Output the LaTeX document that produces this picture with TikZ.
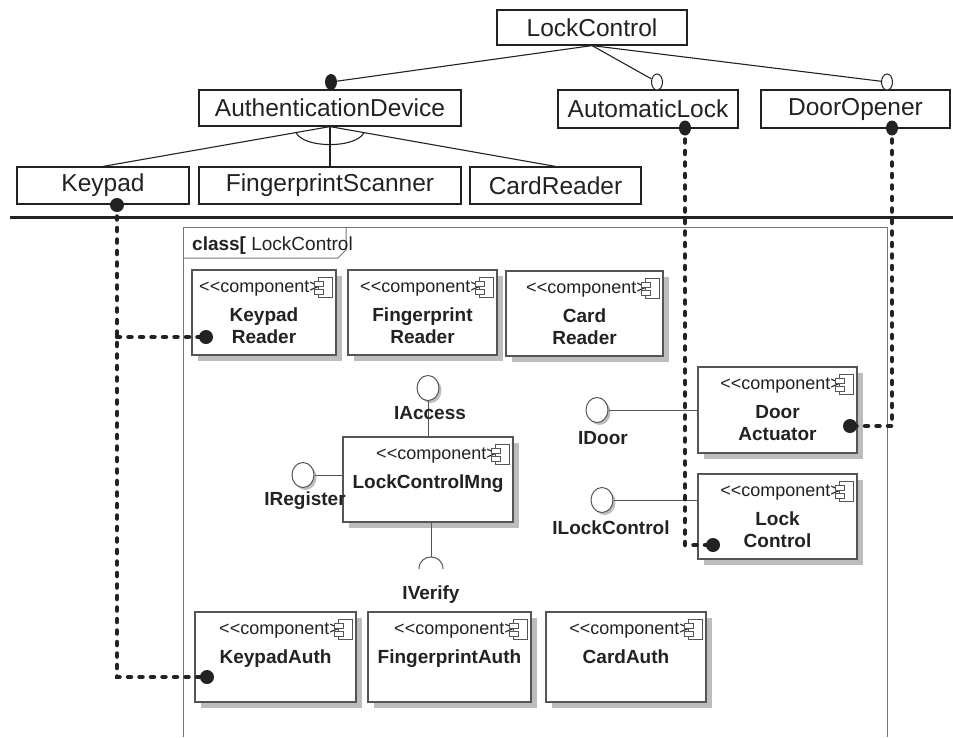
\documentclass[tikz,border=0pt]{standalone}
\usepackage{fontspec}
\setmainfont{Liberation Sans}
\usetikzlibrary{calc,shadows,shapes.geometric,fit}

\definecolor{ink}{HTML}{222222}
\definecolor{edgegray}{HTML}{555555}
\definecolor{framegray}{HTML}{777777}
\definecolor{shade}{HTML}{BDBDBD}

\tikzset{
  feature/.style={draw=ink, line width=1.2pt, inner sep=0pt, text=ink,
    font=\fontsize{24.5}{26}\selectfont},
  tree/.style={draw=ink, line width=1.1pt},
  comp/.style={draw=edgegray, fill=white, line width=1.1pt, inner sep=0pt,
    drop shadow={shadow xshift=6pt, shadow yshift=-6pt, fill=shade, opacity=1}},
  stereo/.style={font=\fontsize{18}{20}\selectfont, text=ink, inner sep=0pt, anchor=base east},
  cname/.style={font=\fontsize{19}{22}\bfseries\selectfont, text=ink, inner sep=0pt, anchor=base},
  iconline/.style={draw=edgegray, fill=white, line width=0.8pt},
  iface/.style={ellipse, draw=edgegray, fill=white, line width=1pt, minimum width=22pt,
    minimum height=25pt, inner sep=0pt,
    drop shadow={shadow xshift=2.5pt, shadow yshift=-2.5pt, fill=shade, opacity=1}},
  ilabel/.style={font=\fontsize{19}{22}\bfseries\selectfont, text=ink, inner sep=0pt, anchor=base},
  thinline/.style={draw=edgegray, line width=1pt},
  frameline/.style={draw=framegray, line width=1pt},
  link/.style={draw=ink, line width=4.5pt, dash pattern=on 3pt off 8.5pt, line cap=round},
  dot/.style={circle, fill=ink, minimum size=14pt, inner sep=0pt},
  fdot/.style={ellipse, fill=ink, minimum width=12pt, minimum height=16pt, inner sep=0pt},
  odot/.style={ellipse, draw=ink, fill=white, line width=1pt, minimum width=11pt,
    minimum height=16pt, inner sep=0pt},
}

% stereotype text; the kerns keep the angle brackets from merging into guillemets
\newcommand\stereotype{<\kern0pt<component>\kern0pt>}

% component box: name, x1, y1, x2, y2, first line, second line
\newcommand\component[7]{%
  \node[comp, fit={(#2,#3) (#4,#5)}] (#1) {};
  \node[stereo] (#1-st) at ($(#1.north east)+(-6,23)$) {\stereotype};
  \draw[iconline] ($(#1.north east)+(-18,8)$) rectangle ($(#1.north east)+(-4,28)$);
  \draw[iconline] ($(#1.north east)+(-22,12)$) rectangle ($(#1.north east)+(-13,17)$);
  \draw[iconline] ($(#1.north east)+(-22,20)$) rectangle ($(#1.north east)+(-13,25)$);
  \node[cname] (#1-n1) at ($(#1.north)+(0,52)$) {#6};
  \if\relax\detokenize{#7}\relax\else
    \node[cname] (#1-n2) at ($(#1.north)+(0,74)$) {#7};
  \fi
}

\begin{document}
\begin{tikzpicture}[x=1pt, y=-1pt]
\useasboundingbox (0,0) rectangle (953,737);

% ---------- feature tree ----------
\node[feature, minimum width=190pt, minimum height=35pt] (lc) at (592,27.5) {LockControl};
\node[feature, minimum width=262pt, minimum height=36pt] (ad) at (330,108) {AuthenticationDevice};
\node[feature, minimum width=180pt, minimum height=38pt] (al) at (648,109) {AutomaticLock};
\node[feature, minimum width=189pt, minimum height=38pt] (dop) at (855.5,109) {DoorOpener};
\node[feature, minimum width=172pt, minimum height=37pt] (kp) at (103,185.5) {Keypad};
\node[feature, minimum width=262pt, minimum height=37pt] (fs) at (330,185.5) {FingerprintScanner};
\node[feature, minimum width=171pt, minimum height=37pt] (crd) at (555.5,185.5) {CardReader};

\node[fdot] (adm) at (331,82) {};
\node[odot] (alo) at (657,82) {};
\node[odot] (doo) at (887,82) {};

\draw[tree] (lc.south) -- (adm);
\draw[tree] (lc.south) -- (alo);
\draw[tree] (lc.south) -- (doo);

\draw[tree] (ad.south) -- (kp.north);
\draw[tree] (ad.south) -- (fs.north);
\draw[tree] (ad.south) -- (crd.north);
% alternative-group arc
\draw[tree] ($(ad.south)+(-34,6)$) .. controls ($(ad.south)+(-26,22)$) and ($(ad.south)+(26,22)$) .. ($(ad.south)+(34,6)$);

% separator
\draw[ink, line width=3pt] (10,217) -- (953,217);

% ---------- class frame ----------
\draw[frameline] (183,737) -- (183,227) -- (887,227) -- (887,737);
\draw[frameline] (183,258) -- (338,258) -- (346,250) -- (346,227);
\node[anchor=base west, inner sep=0pt, text=ink, font=\fontsize{19}{22}\selectfont] (ftitle) at (192,250)
  {\bfseries class[\mdseries\ LockControl};

% ---------- components ----------
\component{kr}{192}{270}{336}{355}{Keypad}{Reader}
\component{fr}{348}{270}{497}{355}{Fingerprint}{Reader}
\component{cr}{506}{271}{663}{356}{Card}{Reader}
\component{lcm}{343}{437}{513}{522}{LockControlMng}{}
\component{da}{698}{367}{857}{453}{Door}{Actuator}
\component{lk}{698}{474}{857}{559}{Lock}{Control}
\component{ka}{195}{612}{356}{702}{KeypadAuth}{}
\component{fa}{368}{612}{531}{702}{FingerprintAuth}{}
\component{ca}{546}{612}{706}{702}{CardAuth}{}

% ---------- interfaces ----------
\node[iface] (ia) at (428,388) {};
\draw[thinline] (ia.south) -- (ia.south |- lcm.north);
\node[ilabel] (ia-l) at (430,419) {IAccess};

\node[iface] (ir) at (303,475) {};
\draw[thinline] (ir.east) -- (ir.east -| lcm.west);
\node[ilabel] (ir-l) at (305,505) {IRegister};

\coordinate (iv) at (431,569);
\draw[thinline] (iv |- lcm.south) -- ($(iv)+(0,-12)$);
\draw[thinline] ($(iv)+(-12,0)$) .. controls ($(iv)+(-12,-16)$) and ($(iv)+(12,-16)$) .. ($(iv)+(12,0)$);
\node[ilabel] (iv-l) at (431,599) {IVerify};

\node[iface] (idr) at (597,410) {};
\draw[thinline] (idr.east) -- (idr.east -| da.west);
\node[ilabel] (idr-l) at (603,444) {IDoor};

\node[iface] (ilc) at (602,500) {};
\draw[thinline] (ilc.east) -- (ilc.east -| lk.west);
\node[ilabel] (ilc-l) at (611,534) {ILockControl};

% ---------- trace links ----------
\coordinate (kpd) at (117,205);
\coordinate (ald) at (685,128);
\coordinate (dod) at (892,128);
\coordinate (krd) at (206,337);
\coordinate (kad) at (207,677);
\coordinate (lkd) at (713,545);
\coordinate (dad) at (850,426);

\draw[link] (kpd) -- (kpd |- kad) -- (kad);
\draw[link] (kpd |- krd) -- (krd);
\draw[link] (ald) -- (ald |- lkd) -- (lkd);
\draw[link] (dod) -- (dod |- dad) -- (dad);

\node[dot] (kpdot) at (kpd) {};
\node[dot] (krdot) at (krd) {};
\node[dot] (kadot) at (kad) {};
\node[fdot, minimum height=15pt] (aldot) at (ald) {};
\node[fdot, minimum height=15pt] (dodot) at (dod) {};
\node[dot] (lkdot) at (lkd) {};
\node[dot] (dadot) at (dad) {};
\end{tikzpicture}
\end{document}
